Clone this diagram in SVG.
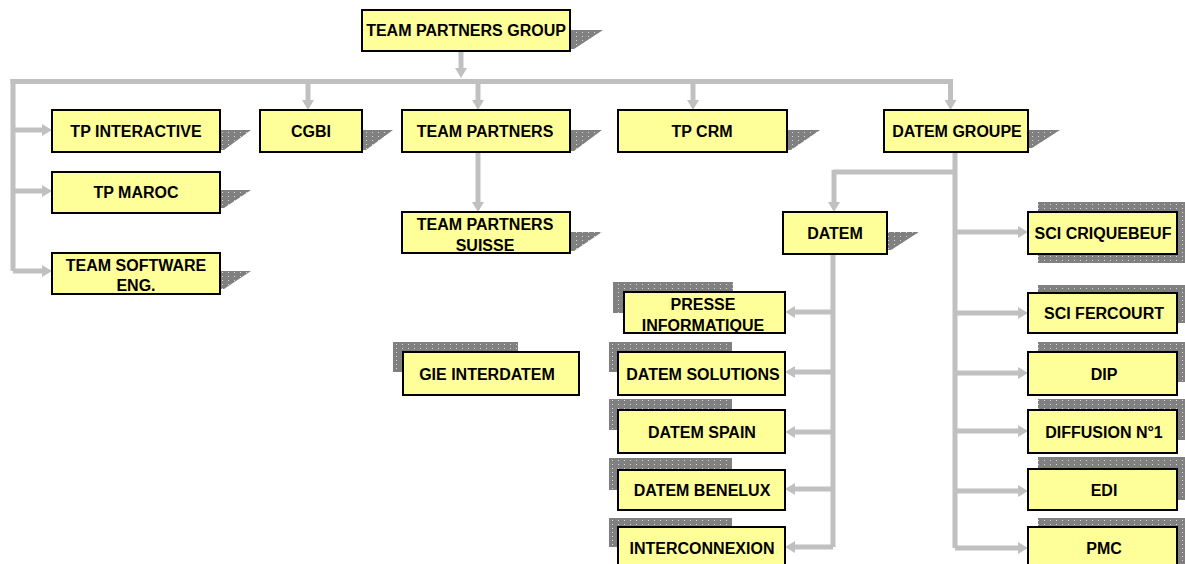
<svg xmlns="http://www.w3.org/2000/svg" width="1185" height="564" viewBox="0 0 1185 564">
  <style>
    .box { fill: #FFFF99; stroke: #000; stroke-width: 2; }
    .sh { fill: url(#dots); }
    .lbl { font-family: "Liberation Sans", Arial, sans-serif; font-weight: bold; font-size: 16px; fill: #000; text-anchor: middle; }
    .ln { fill: none; stroke: #C0C0C0; stroke-width: 5; }
    .arr { fill: none; stroke: #C0C0C0; stroke-width: 5; marker-end: url(#ah); }
  </style>
  <defs>
    <pattern id="dots" width="6" height="4" patternUnits="userSpaceOnUse">
      <rect width="6" height="4" fill="#808080"/>
      <rect x="0" y="0" width="1" height="1" fill="#d8d8d8"/>
    </pattern>
    <marker id="ah" viewBox="0 0 10 12" refX="0" refY="6" markerWidth="10" markerHeight="12" markerUnits="userSpaceOnUse" orient="auto">
      <path d="M0,0 L10,6 L0,12 z" fill="#C0C0C0"/>
    </marker>
  </defs>
  <rect width="1185" height="564" fill="#fff"/>

  <g id="connectors">
    <path class="arr" d="M461,51 V68"/>
    <path class="ln" d="M10.5,81.5 H953"/>
    <path class="ln" d="M13,79 V271"/>
    <path class="arr" d="M13,130 H42"/>
    <path class="arr" d="M13,191 H42"/>
    <path class="arr" d="M13,271 H42"/>
    <path class="arr" d="M308,81 V100"/>
    <path class="arr" d="M478,81 V100"/>
    <path class="arr" d="M478,152 V202"/>
    <path class="arr" d="M693,81 V100"/>
    <path class="arr" d="M950.5,81 V100"/>
    <path class="ln" d="M955,152 V548"/>
    <path class="ln" d="M955,172 H833.5"/>
    <path class="arr" d="M834,170 V202"/>
    <path class="ln" d="M833,254 V547"/>
    <path class="arr" d="M833,312 H795"/>
    <path class="arr" d="M833,372 H795"/>
    <path class="arr" d="M833,432 H795"/>
    <path class="arr" d="M833,489 H795"/>
    <path class="arr" d="M833,547 H795"/>
    <path class="arr" d="M955,232 H1018"/>
    <path class="arr" d="M955,313 H1018"/>
    <path class="arr" d="M955,373 H1018"/>
    <path class="arr" d="M955,431 H1018"/>
    <path class="arr" d="M955,491 H1018"/>
    <path class="arr" d="M955,548 H1018"/>
  </g>

  <g id="team-partners-group">
    <polygon class="sh" points="570,30 603,30 574,49 570,49"/>
    <rect class="box" x="362" y="10" width="208" height="41"/>
    <text class="lbl" x="466" y="36">TEAM PARTNERS GROUP</text>
  </g>
  <g id="tp-interactive">
    <polygon class="sh" points="220,130 251,130 224,150 220,150"/>
    <rect class="box" x="52" y="110" width="168" height="42"/>
    <text class="lbl" x="136" y="137">TP INTERACTIVE</text>
  </g>
  <g id="tp-maroc">
    <polygon class="sh" points="220,190 251,190 224,208 220,208"/>
    <rect class="box" x="52" y="172" width="168" height="41"/>
    <text class="lbl" x="136" y="198">TP MAROC</text>
  </g>
  <g id="team-software-eng">
    <polygon class="sh" points="220,271 251,271 224,289 220,289"/>
    <rect class="box" x="52" y="253" width="168" height="41"/>
    <text class="lbl" x="136" y="271">TEAM SOFTWARE</text>
    <text class="lbl" x="136" y="291">ENG.</text>
  </g>
  <g id="cgbi">
    <polygon class="sh" points="362,130 393,130 366,150 362,150"/>
    <rect class="box" x="260" y="110" width="102" height="42"/>
    <text class="lbl" x="311" y="137">CGBI</text>
  </g>
  <g id="team-partners">
    <polygon class="sh" points="570,130 602,130 574,151 570,151"/>
    <rect class="box" x="402" y="110" width="168" height="42"/>
    <text class="lbl" x="485" y="137">TEAM PARTNERS</text>
  </g>
  <g id="team-partners-suisse">
    <polygon class="sh" points="570,232 602,232 574,251 570,251"/>
    <rect class="box" x="402" y="212" width="168" height="41"/>
    <text class="lbl" x="485" y="230">TEAM PARTNERS</text>
    <text class="lbl" x="485" y="251">SUISSE</text>
  </g>
  <g id="tp-crm">
    <polygon class="sh" points="787,130 820,130 791,150 787,150"/>
    <rect class="box" x="618" y="110" width="169" height="42"/>
    <text class="lbl" x="702" y="137">TP CRM</text>
  </g>
  <g id="datem-groupe">
    <polygon class="sh" points="1028,130 1060,130 1032,148 1028,148"/>
    <rect class="box" x="884" y="110" width="144" height="42"/>
    <text class="lbl" x="957" y="137">DATEM GROUPE</text>
  </g>
  <g id="datem">
    <polygon class="sh" points="887,232 919,232 891,250 887,250"/>
    <rect class="box" x="783" y="212" width="104" height="42"/>
    <text class="lbl" x="835" y="239">DATEM</text>
  </g>
  <g id="gie-interdatem">
    <rect class="sh" x="393" y="342" width="125" height="30"/>
    <rect class="box" x="403" y="352" width="176" height="43"/>
    <text class="lbl" x="487" y="380">GIE INTERDATEM</text>
  </g>
  <g id="presse-informatique">
    <rect class="sh" x="613" y="282" width="120" height="31"/>
    <rect class="box" x="624" y="292" width="161" height="41"/>
    <text class="lbl" x="703" y="310">PRESSE</text>
    <text class="lbl" x="703" y="331">INFORMATIQUE</text>
  </g>
  <g id="datem-solutions">
    <rect class="sh" x="609" y="342" width="123" height="30"/>
    <rect class="box" x="618" y="352" width="167" height="43"/>
    <text class="lbl" x="703" y="380">DATEM SOLUTIONS</text>
  </g>
  <g id="datem-spain">
    <rect class="sh" x="609" y="399" width="123" height="31"/>
    <rect class="box" x="618" y="410" width="167" height="43"/>
    <text class="lbl" x="702" y="438">DATEM SPAIN</text>
  </g>
  <g id="datem-benelux">
    <rect class="sh" x="609" y="458" width="123" height="32"/>
    <rect class="box" x="618" y="470" width="167" height="40"/>
    <text class="lbl" x="702" y="496">DATEM BENELUX</text>
  </g>
  <g id="interconnexion">
    <rect class="sh" x="609" y="518" width="123" height="29"/>
    <rect class="box" x="618" y="527" width="167" height="42"/>
    <text class="lbl" x="702" y="554">INTERCONNEXION</text>
  </g>
  <g id="sci-criquebeuf">
    <rect class="sh" x="1038" y="202" width="150" height="61"/>
    <rect class="box" x="1028" y="212" width="149" height="42"/>
    <text class="lbl" x="1103" y="239">SCI CRIQUEBEUF</text>
  </g>
  <g id="sci-fercourt">
    <rect class="sh" x="1038" y="285" width="150" height="38"/>
    <rect class="box" x="1028" y="293" width="149" height="40"/>
    <text class="lbl" x="1104" y="319">SCI FERCOURT</text>
  </g>
  <g id="dip">
    <rect class="sh" x="1038" y="342" width="150" height="40"/>
    <rect class="box" x="1028" y="352" width="149" height="43"/>
    <text class="lbl" x="1104" y="380">DIP</text>
  </g>
  <g id="diffusion-n1">
    <rect class="sh" x="1038" y="399" width="150" height="41"/>
    <rect class="box" x="1028" y="410" width="149" height="43"/>
    <text class="lbl" x="1104" y="438">DIFFUSION N°1</text>
  </g>
  <g id="edi">
    <rect class="sh" x="1038" y="457" width="150" height="43"/>
    <rect class="box" x="1028" y="469" width="149" height="41"/>
    <text class="lbl" x="1104" y="496">EDI</text>
  </g>
  <g id="pmc">
    <rect class="sh" x="1038" y="518" width="150" height="46"/>
    <rect class="box" x="1028" y="527" width="149" height="42"/>
    <text class="lbl" x="1104" y="554">PMC</text>
  </g>
</svg>
